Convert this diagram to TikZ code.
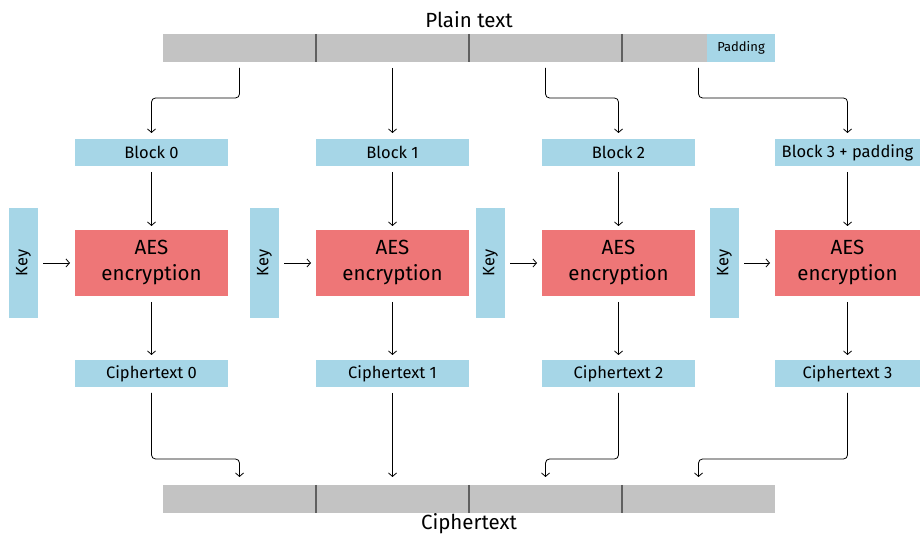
\documentclass[tikz,border=0pt]{standalone}
\usepackage{fontspec}
\setmainfont{Fira Sans}
\usetikzlibrary{arrows.meta}

\definecolor{boxblue}{HTML}{A6D6E7}
\definecolor{aesred}{HTML}{EE7677}
\definecolor{bargray}{HTML}{C3C3C3}
\definecolor{divgray}{HTML}{606060}

\tikzset{
  seg/.style={fill=bargray, minimum width=153pt, minimum height=28pt, inner sep=0pt, outer sep=0pt},
  blk/.style={fill=boxblue, minimum width=153pt, minimum height=27pt, inner sep=0pt, outer sep=0pt,
    font=\fontsize{16.5}{18}\selectfont},
  aes/.style={fill=aesred, minimum width=153pt, minimum height=66pt, inner sep=0pt, outer sep=0pt,
    align=center, font=\fontsize{20.5}{26}\selectfont},
  keybox/.style={fill=boxblue, minimum width=29pt, minimum height=110pt, inner sep=0pt, outer sep=0pt,
    font=\fontsize{16.5}{18}\selectfont},
  bartitle/.style={font=\fontsize{20.5}{22}\selectfont, inner sep=0pt},
  divider/.style={divgray, line width=2pt},
  flow/.style={-{Straight Barb[length=3.5pt,width=8pt]}, line width=0.8pt, rounded corners=4pt}
}

\begin{document}
\begin{tikzpicture}[x=1pt,y=1pt]
  \useasboundingbox (0,0) rectangle (920,537);

  \node[bartitle] (plain) at (469,517) {Plain text};
  \node[bartitle] (cipher) at (469,13) {Ciphertext};

  \begin{scope}[every node/.style={seg}]
    \node (pl0) at (239.5,489) {};
    \node (pl1) at (392.5,489) {};
    \node (pl2) at (545.5,489) {};
    \node (pl3) at (698.5,489) {};
    \node (cb0) at (239.5,38) {};
    \node (cb1) at (392.5,38) {};
    \node (cb2) at (545.5,38) {};
    \node (cb3) at (698.5,38) {};
  \end{scope}
  \node[seg, fill=boxblue, minimum width=68pt, font=\fontsize{13}{15}\selectfont] (pad) at (741,489) {Padding};

  \draw[divider] (pl0.north east) -- (pl0.south east);
  \draw[divider] (pl1.north east) -- (pl1.south east);
  \draw[divider] (pl2.north east) -- (pl2.south east);
  \draw[divider] (cb0.north east) -- (cb0.south east);
  \draw[divider] (cb1.north east) -- (cb1.south east);
  \draw[divider] (cb2.north east) -- (cb2.south east);

  \begin{scope}[every node/.style={blk}]
    \node (b0) at (151.5,384.5) {Block 0};
    \node (b1) at (392.5,384.5) {Block 1};
    \node (b2) at (618.5,384.5) {Block 2};
    \node[minimum width=145pt] (b3) at (847.5,384.5) {Block 3 + padding};
    \node (ct0) at (151.5,163.5) {Ciphertext 0};
    \node (ct1) at (392.5,163.5) {Ciphertext 1};
    \node (ct2) at (618.5,163.5) {Ciphertext 2};
    \node[minimum width=145pt] (ct3) at (847.5,163.5) {Ciphertext 3};
  \end{scope}

  \begin{scope}[every node/.style={aes}]
    \node (a0) at (151.5,274) {AES\\encryption};
    \node (a1) at (392.5,274) {AES\\encryption};
    \node (a2) at (618.5,274) {AES\\encryption};
    \node[minimum width=145pt] (a3) at (847.5,274) {AES\\encryption};
  \end{scope}

  \begin{scope}[every node/.style={keybox}]
    \node (k0) at (23.5,274) {\rotatebox{90}{Key}};
    \node (k1) at (264.5,274) {\rotatebox{90}{Key}};
    \node (k2) at (490.5,274) {\rotatebox{90}{Key}};
    \node (k3) at (724.5,274) {\rotatebox{90}{Key}};
  \end{scope}

  \begin{scope}[every path/.style={flow}]
    \draw ([yshift=-6pt]pl0.south) -- ++(0,-30) -| ([yshift=6pt]b0.north);
    \draw ([yshift=-6pt]pl1.south) -- ([yshift=6pt]b1.north);
    \draw ([yshift=-6pt]pl2.south) -- ++(0,-30) -| ([yshift=6pt]b2.north);
    \draw ([yshift=-6pt]pl3.south) -- ++(0,-30) -| ([yshift=6pt]b3.north);

    \draw ([yshift=-6pt]b0.south) -- ([yshift=4pt]a0.north);
    \draw ([yshift=-6pt]b1.south) -- ([yshift=4pt]a1.north);
    \draw ([yshift=-6pt]b2.south) -- ([yshift=4pt]a2.north);
    \draw ([yshift=-6pt]b3.south) -- ([yshift=4pt]a3.north);

    \draw ([xshift=5pt]k0.east) -- ([xshift=-5pt]a0.west);
    \draw ([xshift=5pt]k1.east) -- ([xshift=-5pt]a1.west);
    \draw ([xshift=5pt]k2.east) -- ([xshift=-5pt]a2.west);
    \draw ([xshift=5pt]k3.east) -- ([xshift=-5pt]a3.west);

    \draw ([yshift=-6pt]a0.south) -- ([yshift=5pt]ct0.north);
    \draw ([yshift=-6pt]a1.south) -- ([yshift=5pt]ct1.north);
    \draw ([yshift=-6pt]a2.south) -- ([yshift=5pt]ct2.north);
    \draw ([yshift=-6pt]a3.south) -- ([yshift=5pt]ct3.north);

    \draw ([yshift=-6pt]ct0.south) -- ++(0,-66) -| ([yshift=8pt]cb0.north);
    \draw ([yshift=-6pt]ct1.south) -- ([yshift=8pt]cb1.north);
    \draw ([yshift=-6pt]ct2.south) -- ++(0,-66) -| ([yshift=8pt]cb2.north);
    \draw ([yshift=-6pt]ct3.south) -- ++(0,-66) -| ([yshift=8pt]cb3.north);
  \end{scope}
\end{tikzpicture}
\end{document}
